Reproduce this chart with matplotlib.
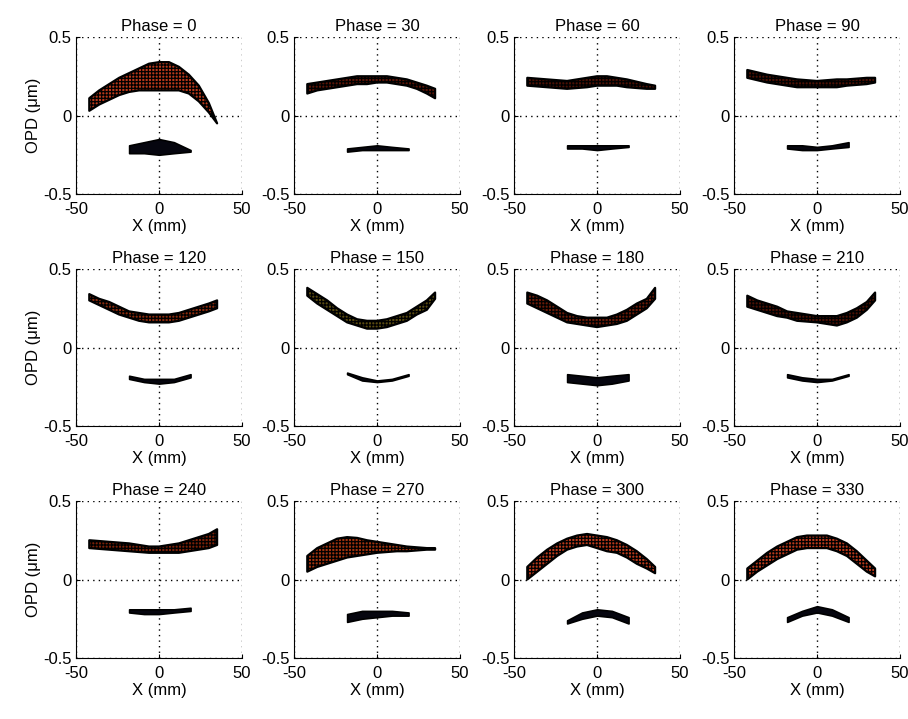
import numpy as np
import matplotlib.pyplot as plt

plt.rcParams['font.family'] = ['Liberation Sans', 'DejaVu Sans']
plt.rcParams['font.size'] = 12
plt.rcParams['axes.unicode_minus'] = False
plt.rcParams['hatch.linewidth'] = 0.9

# ---------------------------------------------------------------- data
phases = [0, 30, 60, 90, 120, 150, 180, 210, 240, 270, 300, 330]

# upper (wide) band: top / bottom edge of OPD (um) at these X (mm)
x_upper = [-42, -36, -30, -24, -18, -12, -6, 0, 6, 12, 18, 24, 30, 35]
upper_top = [
    [0.11, 0.16, 0.20, 0.24, 0.27, 0.30, 0.33, 0.34, 0.34, 0.31, 0.26, 0.19, 0.08, -0.05],
    [0.20, 0.21, 0.22, 0.23, 0.24, 0.25, 0.25, 0.25, 0.25, 0.24, 0.23, 0.21, 0.19, 0.17],
    [0.24, 0.235, 0.23, 0.225, 0.22, 0.23, 0.24, 0.25, 0.25, 0.24, 0.23, 0.215, 0.20, 0.19],
    [0.29, 0.275, 0.26, 0.25, 0.24, 0.23, 0.225, 0.22, 0.225, 0.23, 0.23, 0.235, 0.24, 0.24],
    [0.34, 0.31, 0.29, 0.26, 0.23, 0.22, 0.21, 0.21, 0.21, 0.22, 0.24, 0.26, 0.28, 0.30],
    [0.38, 0.34, 0.30, 0.25, 0.21, 0.18, 0.17, 0.17, 0.18, 0.20, 0.22, 0.26, 0.30, 0.35],
    [0.35, 0.33, 0.30, 0.26, 0.22, 0.20, 0.19, 0.19, 0.19, 0.21, 0.24, 0.28, 0.31, 0.38],
    [0.33, 0.30, 0.28, 0.26, 0.23, 0.22, 0.21, 0.20, 0.20, 0.20, 0.22, 0.25, 0.29, 0.35],
    [0.25, 0.245, 0.24, 0.235, 0.23, 0.22, 0.21, 0.21, 0.22, 0.23, 0.25, 0.27, 0.29, 0.32],
    [0.15, 0.20, 0.23, 0.26, 0.27, 0.265, 0.25, 0.24, 0.23, 0.22, 0.21, 0.205, 0.20, 0.20],
    [0.08, 0.14, 0.19, 0.23, 0.26, 0.28, 0.29, 0.28, 0.27, 0.25, 0.22, 0.18, 0.13, 0.08],
    [0.07, 0.12, 0.17, 0.21, 0.24, 0.27, 0.28, 0.28, 0.28, 0.26, 0.23, 0.18, 0.12, 0.07],
]
upper_bot = [
    [0.03, 0.07, 0.10, 0.13, 0.15, 0.16, 0.16, 0.16, 0.16, 0.16, 0.14, 0.09, 0.02, -0.05],
    [0.14, 0.16, 0.17, 0.18, 0.19, 0.20, 0.20, 0.21, 0.21, 0.20, 0.19, 0.17, 0.14, 0.11],
    [0.19, 0.185, 0.18, 0.175, 0.17, 0.175, 0.18, 0.19, 0.19, 0.19, 0.18, 0.175, 0.17, 0.17],
    [0.24, 0.225, 0.21, 0.20, 0.19, 0.18, 0.18, 0.18, 0.18, 0.18, 0.19, 0.195, 0.20, 0.21],
    [0.30, 0.27, 0.24, 0.21, 0.19, 0.17, 0.16, 0.16, 0.16, 0.17, 0.19, 0.21, 0.23, 0.25],
    [0.33, 0.28, 0.24, 0.20, 0.16, 0.14, 0.12, 0.12, 0.13, 0.15, 0.17, 0.21, 0.24, 0.31],
    [0.28, 0.25, 0.22, 0.19, 0.16, 0.15, 0.14, 0.13, 0.14, 0.15, 0.17, 0.21, 0.25, 0.31],
    [0.26, 0.24, 0.22, 0.20, 0.19, 0.17, 0.165, 0.16, 0.15, 0.14, 0.16, 0.19, 0.24, 0.30],
    [0.20, 0.195, 0.19, 0.185, 0.18, 0.175, 0.17, 0.17, 0.17, 0.17, 0.18, 0.19, 0.20, 0.22],
    [0.05, 0.08, 0.10, 0.12, 0.14, 0.15, 0.16, 0.17, 0.175, 0.18, 0.18, 0.185, 0.19, 0.19],
    [0.00, 0.05, 0.10, 0.15, 0.19, 0.21, 0.22, 0.20, 0.18, 0.17, 0.14, 0.10, 0.07, 0.04],
    [0.00, 0.05, 0.09, 0.13, 0.16, 0.19, 0.20, 0.20, 0.20, 0.18, 0.15, 0.10, 0.05, 0.02],
]

# lower (small) band
x_lower = [-18, -9, 0, 9, 19]
lower_top = [
    [-0.19, -0.17, -0.15, -0.17, -0.22],
    [-0.21, -0.20, -0.19, -0.20, -0.21],
    [-0.19, -0.19, -0.19, -0.19, -0.19],
    [-0.19, -0.19, -0.20, -0.19, -0.17],
    [-0.18, -0.20, -0.20, -0.20, -0.17],
    [-0.16, -0.19, -0.21, -0.20, -0.17],
    [-0.17, -0.18, -0.19, -0.18, -0.17],
    [-0.17, -0.19, -0.20, -0.20, -0.17],
    [-0.19, -0.19, -0.19, -0.19, -0.18],
    [-0.22, -0.20, -0.20, -0.20, -0.21],
    [-0.26, -0.21, -0.19, -0.20, -0.24],
    [-0.24, -0.20, -0.17, -0.19, -0.24],
]
lower_bot = [
    [-0.24, -0.24, -0.25, -0.24, -0.23],
    [-0.23, -0.22, -0.22, -0.22, -0.22],
    [-0.21, -0.21, -0.22, -0.21, -0.20],
    [-0.21, -0.22, -0.22, -0.21, -0.20],
    [-0.20, -0.22, -0.23, -0.22, -0.19],
    [-0.17, -0.21, -0.22, -0.21, -0.18],
    [-0.22, -0.23, -0.24, -0.23, -0.21],
    [-0.19, -0.21, -0.22, -0.21, -0.18],
    [-0.21, -0.22, -0.22, -0.21, -0.20],
    [-0.27, -0.25, -0.24, -0.23, -0.23],
    [-0.28, -0.25, -0.23, -0.24, -0.28],
    [-0.27, -0.23, -0.21, -0.23, -0.27],
]

# surface tint of the upper band (style only)
tint = ['#b8381a', '#5a1406', '#4a1004', '#4a1004', '#8a2a0c', '#5a4a10',
        '#6a1a08', '#4a1004', '#7a2008', '#a0320e', '#b8381a', '#b8381a']

# ---------------------------------------------------------------- layout (pixels)
W, H = 908, 719
col_left = [76, 294, 514, 734]
row_top = [37, 269, 501]
ax_w, ax_h = 166, 157

fig = plt.figure(figsize=(W/100, H/100), dpi=100)

for k, ph in enumerate(phases):
    r, c = divmod(k, 4)
    ax = fig.add_axes([col_left[c]/W, (H - row_top[r] - ax_h)/H, ax_w/W, ax_h/H])

    ax.fill_between(x_upper, upper_bot[k], upper_top[k], facecolor=tint[k],
                    edgecolor='k', hatch='+++++', linewidth=1.6)
    ax.fill_between(x_lower, lower_bot[k], lower_top[k], facecolor='#06060f',
                    edgecolor='k', linewidth=1.2)

    ax.set_xlim(-50, 50)
    ax.set_ylim(-0.5, 0.5)
    ax.set_xticks([-50, 0, 50])
    ax.set_yticks([-0.5, 0, 0.5])
    ax.set_yticklabels(['-0.5', '0', '0.5'])
    ax.grid(True, color='k', linestyle=(0, (1, 3)), linewidth=1.0)
    ax.set_axisbelow(True)
    ax.spines['top'].set_visible(False)
    ax.spines['right'].set_visible(False)
    ax.tick_params(direction='in', length=3)
    ax.tick_params(axis='x', pad=6)
    ax.tick_params(axis='y', pad=3)
    ax.set_title('Phase = {:d}'.format(ph), fontsize=12, pad=4)
    ax.set_xlabel('X (mm)', labelpad=1)
    if c == 0:
        ax.set_ylabel('OPD (\u03bcm)', labelpad=2)

fig.savefig('out.png', dpi=100)
